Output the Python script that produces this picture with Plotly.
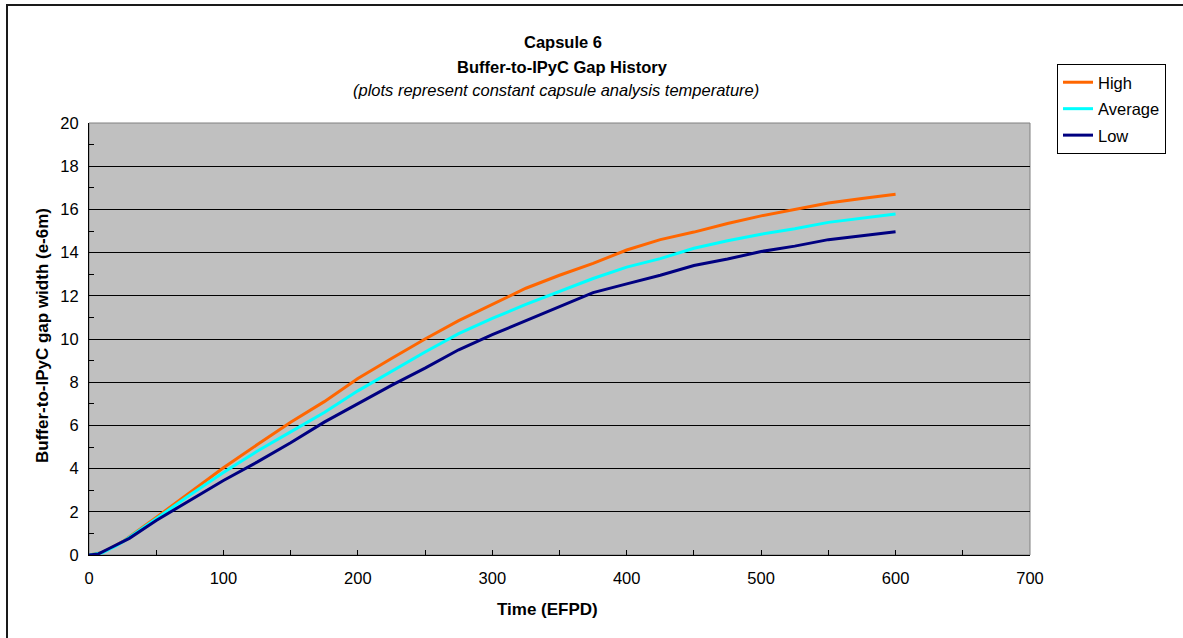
import plotly.graph_objects as go

# Buffer-to-IPyC gap width (e-6 m) versus irradiation time (EFPD), Capsule 6
time_high = [0, 10, 20, 25, 50, 75, 100, 125, 150, 175, 200, 225, 250, 275, 300,
             325, 350, 375, 400, 425, 450, 475, 500, 525, 550, 575, 600]
gap_high = [0, 0.12, 0.45, 0.62, 1.74, 2.9, 4.04, 5.1, 6.15, 7.1, 8.17, 9.1, 10.0,
            10.85, 11.6, 12.35, 12.95, 13.5, 14.12, 14.6, 14.95, 15.35, 15.7, 16.0,
            16.3, 16.5, 16.7]

time_avg = [0, 10, 20, 25, 50, 75, 100, 125, 150, 175, 200, 225, 250, 275, 300,
            325, 350, 375, 400, 425, 450, 475, 500, 525, 550, 575, 600]
gap_avg = [0, 0.1, 0.42, 0.6, 1.68, 2.78, 3.82, 4.8, 5.7, 6.6, 7.6, 8.5, 9.4,
           10.25, 10.95, 11.6, 12.2, 12.8, 13.33, 13.72, 14.2, 14.55, 14.85, 15.1,
           15.4, 15.6, 15.79]

time_low = [0, 7, 15, 30, 50, 75, 100, 125, 150, 175, 200, 225, 250, 275, 300,
            325, 350, 375, 400, 425, 450, 475, 500, 525, 550, 575, 600]
gap_low = [0, 0.05, 0.3, 0.77, 1.6, 2.52, 3.45, 4.3, 5.2, 6.15, 7.0, 7.85, 8.65,
           9.5, 10.2, 10.85, 11.5, 12.15, 12.55, 12.95, 13.4, 13.7, 14.05, 14.3,
           14.6, 14.8, 14.97]

series_names = ["High", "Average", "Low"]
series_colors = ["#FF6600", "#00FFFF", "#000080"]

FONT = "Liberation Sans, Arial, sans-serif"
W, H = 1183, 638
L, R, T, B = 89, 1030, 123, 555
PW, PH = R - L, B - T


def px_x(x):
    return (x - L) / PW


def px_y(y):
    return (B - y) / PH


fig = go.Figure()
for name, color, xs, ys in zip(series_names, series_colors,
                               [time_high, time_avg, time_low],
                               [gap_high, gap_avg, gap_low]):
    fig.add_trace(go.Scatter(x=xs, y=ys, mode="lines", name=name,
                             legendgroup=name,
                             line=dict(color=color, width=3)))

fig.update_layout(
    width=W, height=H,
    margin=dict(l=L, r=W - R, t=T, b=H - B, autoexpand=False),
    paper_bgcolor="white",
    plot_bgcolor="#C0C0C0",
    font=dict(family=FONT, size=16, color="black"),
    showlegend=True,
    legend=dict(x=px_x(1057), y=px_y(64), xanchor="left", yanchor="top",
                bgcolor="white", bordercolor="black", borderwidth=1,
                font=dict(family=FONT, size=16.5, color="black"),
                tracegroupgap=2, itemwidth=30),
)

fig.update_xaxes(
    range=[0, 700], dtick=100, tick0=0, showgrid=False, zeroline=False,
    showline=True, linecolor="black", linewidth=1,
    ticks="inside", ticklen=5, tickcolor="black",
    minor=dict(dtick=50, ticks="inside", ticklen=5, tickcolor="black"),
    tickfont=dict(family=FONT, size=16.5), ticklabelstandoff=8,
)
fig.update_yaxes(
    range=[0, 20], dtick=2, tick0=0, showgrid=True, gridcolor="black",
    gridwidth=1, zeroline=False,
    showline=True, linecolor="black", linewidth=1,
    ticks="inside", ticklen=5, tickcolor="black",
    minor=dict(dtick=1, ticks="inside", ticklen=5, tickcolor="black"),
    tickfont=dict(family=FONT, size=16.5), ticklabelstandoff=6,
)

# plot-area frame
fig.add_shape(type="rect", xref="paper", yref="paper", x0=0, x1=1, y0=0, y1=1,
              line=dict(color="#808080", width=1), layer="below")
# outer chart border (left and top edges)
fig.add_shape(type="line", xref="paper", yref="paper",
              x0=px_x(7), x1=px_x(7), y0=px_y(5), y1=px_y(638),
              line=dict(color="#1a1a1a", width=2))
fig.add_shape(type="line", xref="paper", yref="paper",
              x0=px_x(6), x1=px_x(1183), y0=px_y(5), y1=px_y(5),
              line=dict(color="#1a1a1a", width=2))

titles = [
    ("<b>Capsule 6</b>", 563, 42),
    ("<b>Buffer-to-IPyC Gap History</b>", 562, 67),
    ("<i>(plots represent constant capsule analysis temperature)</i>", 556, 90),
]
for text, x, y in titles:
    fig.add_annotation(text=text, xref="paper", yref="paper", x=px_x(x), y=px_y(y),
                       xanchor="center", yanchor="middle", showarrow=False,
                       font=dict(family=FONT, size=16.5, color="black"))

fig.add_annotation(text="<b>Time (EFPD)</b>", xref="paper", yref="paper",
                   x=px_x(547), y=px_y(609), xanchor="center", yanchor="middle",
                   showarrow=False, font=dict(family=FONT, size=17, color="black"))
fig.add_annotation(text="<b>Buffer-to-IPyC gap width (e-6m)</b>", xref="paper",
                   yref="paper", x=px_x(42), y=px_y(336), xanchor="center",
                   yanchor="middle", textangle=-90, showarrow=False,
                   font=dict(family=FONT, size=17, color="black"))

fig.write_html("out.html")
